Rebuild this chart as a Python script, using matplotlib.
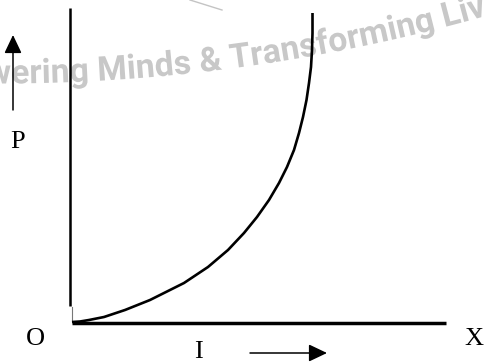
import numpy as np
import matplotlib
matplotlib.use("Agg")
import matplotlib.pyplot as plt
from matplotlib.font_manager import FontProperties
from matplotlib.textpath import TextPath
from matplotlib.patches import PathPatch
from matplotlib.path import Path

# curve (I along the x axis, P up the y axis, origin at O)
current_I = [0, 8, 17, 32, 53, 78, 112, 136, 156, 172, 185, 197, 207, 215,
             222, 227, 231, 234.5, 237, 239, 240, 240.5, 240.5]
power_P = [0, 0.5, 2, 5, 12, 22, 39, 55, 72, 89, 105, 122, 139, 155,
           172, 189, 205, 222, 239, 255, 272, 289, 309]

label_origin = "O"
label_x = "X"
label_p = "P"
label_i = "I"
watermark = "Empowering Minds & Transforming Lives"

fig = plt.figure(figsize=(4.84, 3.62), dpi=100)
ax = fig.add_axes([0, 0, 1, 1])
ax.set_xlim(-72, 412)
ax.set_ylim(-40, 322)
ax.axis("off")

# watermark bent along a large arc (pixel geometry of the image)
fp = FontProperties(family="Roboto", weight="bold")
tp = TextPath((0, 0), watermark, size=34, prop=fp)
pre = TextPath((0, 0), "Empowering M", size=34, prop=fp).get_extents()
m_only = TextPath((0, 0), "M", size=34, prop=fp).get_extents()
u_M = pre.x1 - m_only.width
R, x0, y0 = 1780.0, 0.0, 83.5
s_M = R * np.arcsin((100 - x0) / R)
u = tp.vertices[:, 0] - u_M + s_M
v = tp.vertices[:, 1]
phi = u / R
px = x0 + (R - v) * np.sin(phi)
py = y0 - R + (R - v) * np.cos(phi)
verts = np.column_stack([px - 72, 322 - py])
ax.add_patch(PathPatch(Path(verts, tp.codes), fc="#c8c8c8", ec="none", zorder=0))
ax.plot([118, 150], [322, 312], color="#c4c4c4", lw=1.0, zorder=0)

# axes lines
ax.plot([-2, -2], [16, 314], color="black", lw=1.8, solid_capstyle="butt")
ax.plot([0, 374], [-1, -1], color="black", lw=2.5, solid_capstyle="butt")
ax.plot([0, 0], [1, 15], color="#777777", lw=0.8)

# the P-I curve
ax.plot(current_I, power_P, color="black", lw=1.9, solid_capstyle="butt",
        solid_joinstyle="round")

# labels
serif = dict(family="Liberation Serif", size=19, color="black")
ax.text(-37, -23, label_origin, ha="center", va="baseline", **serif)
ax.text(402, -23, label_x, ha="center", va="baseline", **serif)
ax.text(-54, 174, label_p, ha="center", va="baseline", **serif)
ax.text(126, -36, label_i, ha="center", va="baseline", **serif)

arrow = dict(arrowstyle="-|>,head_length=0.8,head_width=0.38", color="black",
             lw=1.1, shrinkA=0, shrinkB=0, mutation_scale=14)
ax.annotate("", xy=(-59, 287), xytext=(-59, 212), arrowprops=arrow)
ax.annotate("", xy=(255, -31), xytext=(178, -31), arrowprops=arrow)

fig.savefig("out.png", dpi=100)
